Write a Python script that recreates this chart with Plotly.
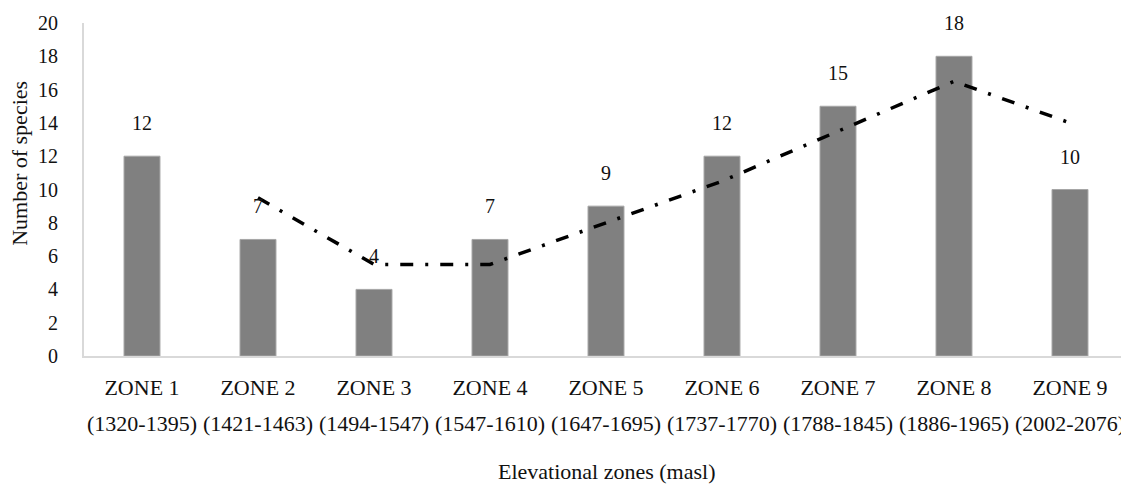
import plotly.graph_objects as go

zones = ["ZONE 1", "ZONE 2", "ZONE 3", "ZONE 4", "ZONE 5", "ZONE 6", "ZONE 7", "ZONE 8", "ZONE 9"]
ranges = ["(1320-1395)", "(1421-1463)", "(1494-1547)", "(1547-1610)", "(1647-1695)",
          "(1737-1770)", "(1788-1845)", "(1886-1965)", "(2002-2076)"]
species = [12, 7, 4, 7, 9, 12, 15, 18, 10]
trend = [None, 9.5, 5.5, 5.5, 8, 10.5, 13.5, 16.5, 14]

FONT = "Liberation Serif"
TXT = "#111111"

fig = go.Figure()
fig.add_trace(go.Bar(
    x=zones, y=species,
    marker=dict(color="#808080", line=dict(color="#a6a6a6", width=1)),
    width=0.31, showlegend=False, hoverinfo="skip",
))
fig.add_trace(go.Scatter(
    x=zones, y=trend, mode="lines",
    line=dict(color="black", width=3.5, dash="13px,12px,3px,12px"),
    connectgaps=False, showlegend=False, hoverinfo="skip",
))

annotations = []
for z, v in zip(zones, species):
    annotations.append(dict(x=z, y=v, xref="x", yref="y", text=str(v), showarrow=False,
                            yanchor="bottom", yshift=20, font=dict(family=FONT, size=20, color=TXT)))
for z, r in zip(zones, ranges):
    annotations.append(dict(x=z, y=0, xref="x", yref="y", text=r, showarrow=False,
                            yanchor="middle", yshift=-67, font=dict(family=FONT, size=22, color=TXT)))
annotations.append(dict(x=0.5, y=0, xref="paper", yref="paper", text="Elevational zones (masl)",
                        showarrow=False, yanchor="middle", yshift=-115,
                        font=dict(family=FONT, size=22, color=TXT)))
annotations.append(dict(x=0, y=0.577, xref="paper", yref="paper", text="Number of species",
                        showarrow=False, xanchor="center", yanchor="middle", xshift=-64, textangle=-90,
                        font=dict(family=FONT, size=22, color=TXT)))

fig.update_layout(
    width=1121, height=482,
    margin=dict(l=76, r=1, t=15, b=134),
    paper_bgcolor="white", plot_bgcolor="white",
    font=dict(family=FONT, color=TXT),
    annotations=annotations,
    xaxis=dict(
        showline=True, linecolor="#d9d9d9", linewidth=2, showgrid=False, ticks="",
        tickfont=dict(family=FONT, size=22, color=TXT), ticklabelstandoff=11, automargin=False,
    ),
    yaxis=dict(
        range=[0, 20], dtick=2, showline=True, linecolor="#d9d9d9", linewidth=2,
        showgrid=False, zeroline=False, ticks="", automargin=False,
        tickfont=dict(family=FONT, size=20, color=TXT), ticklabelstandoff=20,
    ),
)

fig.write_html("out.html")
